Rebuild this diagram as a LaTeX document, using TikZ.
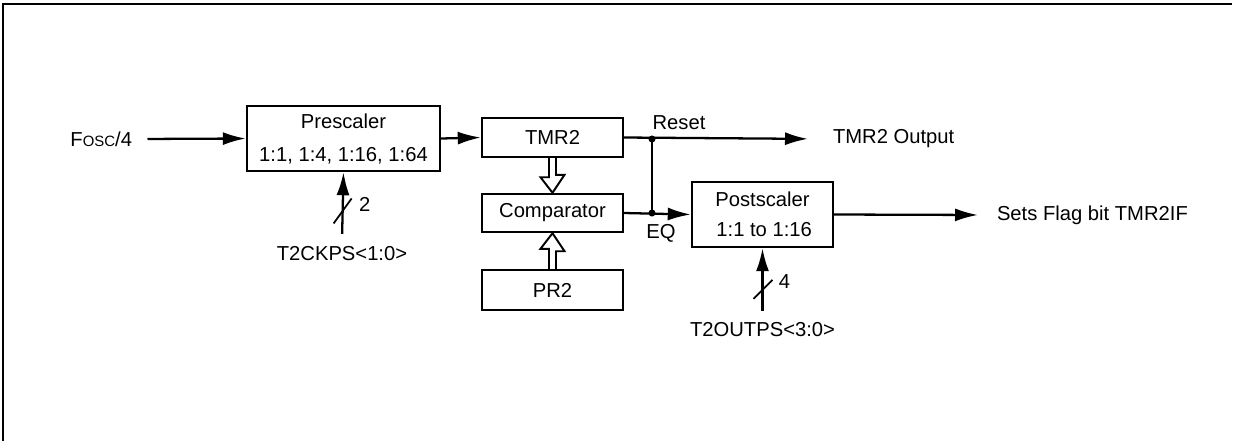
\documentclass[tikz,border=0pt]{standalone}
\usepackage{fontspec}
\setmainfont{Liberation Sans}
\usetikzlibrary{arrows.meta,calc}

\begin{document}
\begin{tikzpicture}[x=0.02cm,y=-0.02cm,line width=1.3pt,
  font=\fontsize{11.5}{13.8}\selectfont,
  blk/.style={draw,line width=1.4pt,inner sep=0pt,align=center},
  sig/.style={-{Latex[length=4.6mm,width=2.6mm]}}]
\useasboundingbox (0,0) rectangle (1242,441);
\draw[line width=1.6pt] (3,441) -- (3,4) -- (1232,4);

\node[blk,minimum width=3.86cm,minimum height=1.3cm] (pre) at (343.5,138.5) {Prescaler\\[5pt]1:1, 1:4, 1:16, 1:64};
\node[blk,minimum width=2.82cm,minimum height=0.78cm] (tmr) at (552.5,137.5) {TMR2};
\node[blk,minimum width=2.82cm,minimum height=0.76cm] (cmp) at (552.5,213) {Comparator};
\node[blk,minimum width=2.82cm,minimum height=0.8cm] (pr) at (552.5,290) {PR2};
\node[blk,minimum width=2.82cm,minimum height=1.3cm] (post) at (762.5,214.5) {Postscaler\\[3pt]\,1:1 to 1:16};

\node[anchor=east] (fosc) at (139,139) {F{\fontsize{8.5}{10}\selectfont OSC}/4};
\node (ckps) at (342,254) {T2CKPS<1:0>};
\node (outps) at (762.5,330) {T2OUTPS<3:0>};
\node[anchor=west] (out) at (826,139) {TMR2 Output};
\node[anchor=west] (flag) at (990,215) {Sets Flag bit TMR2IF};
\node (reset) at (679,123) {Reset};
\node (eq) at (661,233) {EQ};

\coordinate (jr) at (652,139);
\coordinate (jeq) at (jr |- cmp.east);

\draw[sig,shorten <=1.7mm] (fosc.east) -- (pre.west);
\draw[sig] (pre.east) -- (tmr.west);
\draw[sig,shorten >=3.6mm] (tmr.east) -- (out.west);
\draw[sig] (cmp.east) -- (post.west);
\draw (jr) -- (jeq);
\draw[sig,shorten >=2.4mm] (post.east) -- (flag.west);
\draw[sig,shorten <=1.2mm] (ckps.north) -- (pre.south);
\draw[sig,shorten <=1mm] (outps.north) -- (post.south);
\foreach \p in {(jr),(jeq)}{\fill \p circle (2pt);}

\draw[line width=1pt] ($(ckps.north)!.42!(pre.south)$) +(-9,12) -- +(9,-13);
\node at ($(ckps.north)!.42!(pre.south)+(22,-7)$) {2};
\draw[line width=1pt] ($(outps.north)!.4!(post.south)$) +(-9,10) -- +(10,-9);
\node at ($(outps.north)!.4!(post.south)+(22,-7)$) {4};

\draw[line width=1.1pt] ($(tmr.south)+(-3.5,0)$) -- ++(0,19) -- ++(-8.5,0) -- (cmp.north) -- ++(12,-18) -- ++(-8.5,0) -- ($(tmr.south)+(3.5,0)$);
\draw[line width=1.1pt] ($(pr.north)+(-3.5,0)$) -- ++(0,-20) -- ++(-8.5,0) -- (cmp.south) -- ++(12,18) -- ++(-8.5,0) -- ($(pr.north)+(3.5,0)$);
\end{tikzpicture}
\end{document}
